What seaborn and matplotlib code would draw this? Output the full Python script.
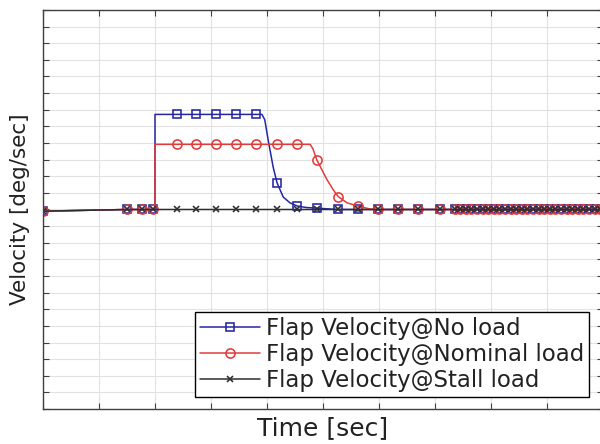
import matplotlib
matplotlib.use("Agg")
import matplotlib.pyplot as plt
import pandas as pd
import seaborn as sns

# Marked sample instants shared by the three runs (s)
t_marks = [0.00, 1.50, 1.77, 1.96, 2.39, 2.73, 3.09, 3.45, 3.80, 4.18,
           4.54, 4.89, 5.27, 5.63, 5.98, 6.34, 6.70, 7.09,
           7.35, 7.45, 7.55, 7.65, 7.75, 7.85, 7.95, 8.05, 8.15,
           8.25, 8.35, 8.45, 8.55, 8.65, 8.75, 8.85, 8.95, 9.05,
           9.15, 9.25, 9.35, 9.45, 9.55, 9.65, 9.75, 9.85, 9.95]

# Flap velocity at the marked instants (deg/sec)
noload_marks = [-0.10, 0.00, 0.00, 0.00, 5.72, 5.72, 5.72, 5.72, 5.72, 1.60,
                0.21, 0.08, 0.00, 0.00, 0.00, 0.00, 0.00, 0.00,
                0.00, 0.00, 0.00, 0.00, 0.00, 0.00, 0.00, 0.00, 0.00,
                0.00, 0.00, 0.00, 0.00, 0.00, 0.00, 0.00, 0.00, 0.00,
                0.00, 0.00, 0.00, 0.00, 0.00, 0.00, 0.00, 0.00, 0.00]
nominal_marks = [-0.10, 0.00, 0.00, 0.00, 3.92, 3.92, 3.92, 3.92, 3.92, 3.92,
                 3.92, 2.98, 0.78, 0.20, 0.00, 0.00, 0.00, 0.00,
                 0.00, 0.00, 0.00, 0.00, 0.00, 0.00, 0.00, 0.00, 0.00,
                 0.00, 0.00, 0.00, 0.00, 0.00, 0.00, 0.00, 0.00, 0.00,
                 0.00, 0.00, 0.00, 0.00, 0.00, 0.00, 0.00, 0.00, 0.00]
stall_marks = [-0.10, 0.00, 0.00, 0.00, 0.00, 0.00, 0.00, 0.00, 0.00, 0.00,
               0.00, 0.00, 0.00, 0.00, 0.00, 0.00, 0.00, 0.00,
               0.00, 0.00, 0.00, 0.00, 0.00, 0.00, 0.00, 0.00, 0.00,
               0.00, 0.00, 0.00, 0.00, 0.00, 0.00, 0.00, 0.00, 0.00,
               0.00, 0.00, 0.00, 0.00, 0.00, 0.00, 0.00, 0.00, 0.00]

# Intermediate solver points between marks (step onset and decay)
noload_shape_t = [2.00, 2.00, 3.91, 3.96, 4.02, 4.11, 4.29, 4.41, 4.70]
noload_shape_v = [0.00, 5.72, 5.72, 5.40, 4.20, 2.55, 0.75, 0.40, 0.12]
nominal_shape_t = [2.00, 2.00, 4.77, 4.82, 5.07, 5.18, 5.43, 5.84]
nominal_shape_v = [0.00, 3.92, 3.92, 3.65, 1.80, 1.20, 0.40, 0.03]
stall_shape_t = []
stall_shape_v = []

labels = ["Flap Velocity@No load", "Flap Velocity@Nominal load",
          "Flap Velocity@Stall load"]


def series_frame(mark_v, shape_t, shape_v):
    marks = pd.DataFrame({"t": t_marks, "v": mark_v, "marked": True})
    shape = pd.DataFrame({"t": shape_t, "v": shape_v, "marked": False})
    df = pd.concat([marks, shape], ignore_index=True)
    return df.sort_values("t", kind="stable").reset_index(drop=True)


sns.set_theme(style="white")
plt.rcParams["font.family"] = ["DejaVu Sans"]

fig = plt.figure(figsize=(6.0, 4.44), dpi=100)
ax = fig.add_axes([43 / 600, 35 / 444, 560 / 600, 399 / 444])

runs = [
    (series_frame(noload_marks, noload_shape_t, noload_shape_v),
     "#2626a3", "s", 5.2, labels[0]),
    (series_frame(nominal_marks, nominal_shape_t, nominal_shape_v),
     "#e03c3c", "o", 6.6, labels[1]),
    (series_frame(stall_marks, stall_shape_t, stall_shape_v),
     "#2e2e2e", "x", 3.8, labels[2]),
]

for df, color, marker, ms, label in runs:
    sns.lineplot(data=df, x="t", y="v", ax=ax, estimator=None, sort=False,
                 color=color, linewidth=1.1, marker=marker, markersize=ms,
                 markevery=df["marked"].to_list(), markerfacecolor="none",
                 markeredgecolor=color, markeredgewidth=1.15, label=label)

ax.set_xlim(0, 10)
ax.set_ylim(-12, 12)
ax.set_xticks(range(0, 11))
ax.set_yticks(range(-12, 13))
ax.tick_params(axis="both", which="both", direction="in", length=4,
               width=0.8, color="#404040", top=True, right=True,
               labelbottom=False, labelleft=False, bottom=True, left=True)
ax.grid(True, color="#e2e2e2", linewidth=0.8)
ax.set_axisbelow(True)
for side in ax.spines.values():
    side.set_color("#404040")
    side.set_linewidth(1.0)

ax.set_xlabel("Time [sec]", fontsize=18, color="#222222", labelpad=5)
ax.set_ylabel("Velocity [deg/sec]", fontsize=15.5, color="#222222",
              labelpad=9)

leg = ax.legend(loc="lower right", bbox_to_anchor=(589 / 600, 47 / 444),
                bbox_transform=fig.transFigure, borderaxespad=0,
                fontsize=16.5, numpoints=1, handlelength=2.6,
                handletextpad=0.25, labelspacing=0.12, borderpad=0.22,
                fancybox=False, framealpha=1.0, edgecolor="black")
leg.get_frame().set_linewidth(1.0)
for text in leg.get_texts():
    text.set_color("#222222")

fig.savefig("out.png", dpi=100)
